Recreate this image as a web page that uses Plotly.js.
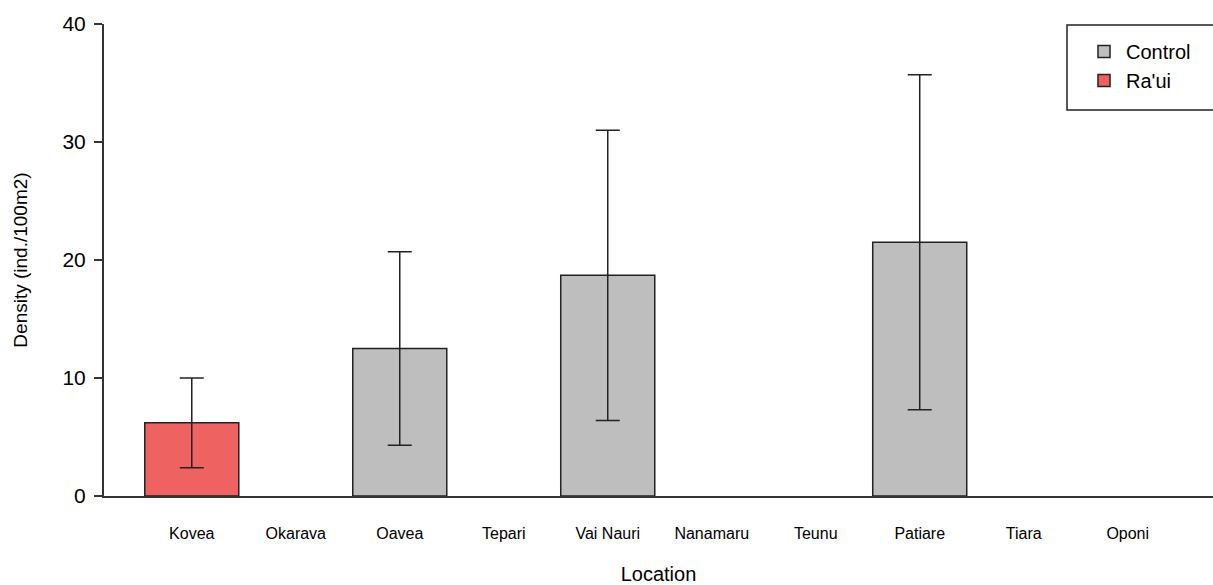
<!DOCTYPE html>
<html>
<head>
<meta charset="utf-8">
<script src="https://cdn.plot.ly/plotly-3.0.1.min.js"></script>
<style>html,body{margin:0;padding:0;background:#fff;}#chart{width:1213px;height:585px;}</style>
</head>
<body>
<div id="chart"></div>
<script>
// Data
const locations = ["Kovea","Okarava","Oavea","Tepari","Vai Nauri","Nanamaru","Teunu","Patiare","Tiara","Oponi"];
const controlLocations = ["Oavea","Vai Nauri","Patiare"];
const controlMeans = [12.5, 18.7, 21.5];
const controlErrors = [8.2, 12.3, 14.2];
const rauiLocations = ["Kovea"];
const rauiMeans = [6.2];
const rauiErrors = [3.8];

const font = "Liberation Sans, Arial, sans-serif";
const ink = "#000000";

const errStyle = {type: "data", visible: true, color: "#222222", thickness: 1.5, width: 12};

const traces = [
  {
    type: "bar", name: "Control",
    x: controlLocations, y: controlMeans,
    error_y: Object.assign({array: controlErrors}, errStyle),
    marker: {color: "#bebebe", line: {color: "#222222", width: 1.5}},
    hoverinfo: "x+y"
  },
  {
    type: "bar", name: "Ra'ui",
    x: rauiLocations, y: rauiMeans,
    error_y: Object.assign({array: rauiErrors}, errStyle),
    marker: {color: "#ee6262", line: {color: "#222222", width: 1.5}},
    hoverinfo: "x+y"
  }
];

const L = 104, R = 1213, T = 24, B = 496;
const px = v => (v - L) / (R - L);
const py = v => (B - v) / (B - T);

const layout = {
  width: 1213, height: 585,
  margin: {l: L, r: 0, t: T, b: 585 - B},
  paper_bgcolor: "#ffffff", plot_bgcolor: "#ffffff",
  font: {family: font, color: ink},
  barmode: "overlay",
  bargap: 0.096,
  showlegend: true,
  legend: {
    x: px(1082), xanchor: "left",
    y: py(32), yanchor: "top",
    bordercolor: "rgba(0,0,0,0)", borderwidth: 0,
    bgcolor: "rgba(0,0,0,0)",
    font: {family: font, size: 20, color: ink},
    itemwidth: 34,
    tracegroupgap: 0
  },
  shapes: [{
    type: "rect", xref: "paper", yref: "paper",
    x0: px(1067), x1: px(1225), y0: py(110), y1: py(25),
    line: {color: "#222222", width: 1.5}, fillcolor: "rgba(0,0,0,0)", layer: "below"
  }],
  xaxis: {
    type: "category",
    categoryorder: "array", categoryarray: locations,
    tickvals: locations, ticktext: locations,
    range: [-0.844, 9.82],
    showline: true, linecolor: "#333333", linewidth: 2,
    ticks: "", showgrid: false, zeroline: false,
    tickfont: {family: font, size: 16, color: ink},
    ticklabelstandoff: 22,
    title: {text: "Location", font: {family: font, size: 20, color: ink}, standoff: 27},
    fixedrange: true
  },
  yaxis: {
    range: [0, 40],
    tickvals: [0, 10, 20, 30, 40],
    showline: true, linecolor: "#333333", linewidth: 2,
    ticks: "outside", ticklen: 8, tickwidth: 1.5, tickcolor: "#333333",
    showgrid: false, zeroline: false,
    tickfont: {family: font, size: 21, color: ink},
    ticklabelstandoff: 4,
    title: {text: "Density (ind./100m2)", font: {family: font, size: 19, color: ink}, standoff: 30},
    fixedrange: true
  }
};

Plotly.newPlot("chart", traces, layout, {displayModeBar: false, staticPlot: true});
</script>
</body>
</html>
